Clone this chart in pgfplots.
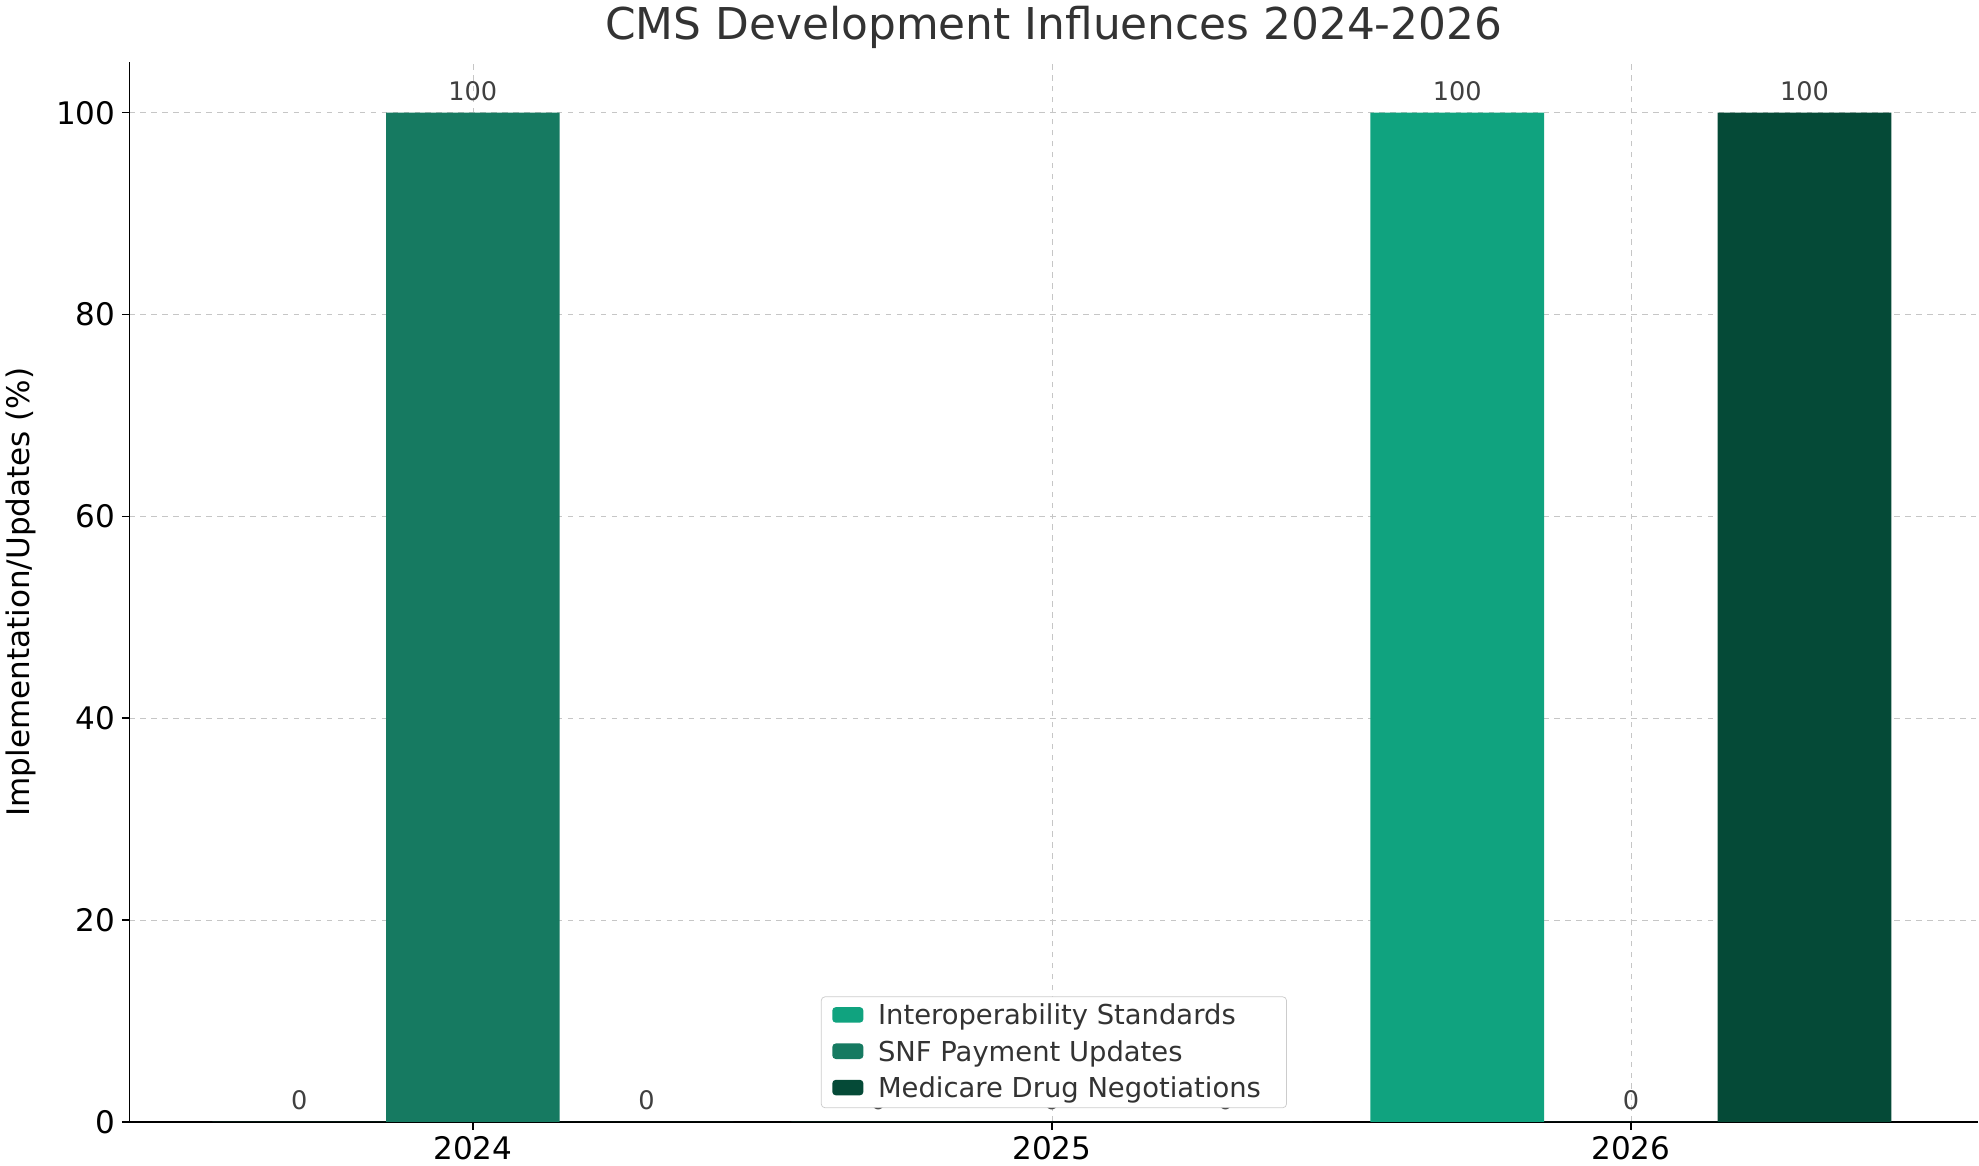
\documentclass[border=0pt]{standalone}
\usepackage{pgfplots}
\pgfplotsset{compat=1.18}
\usepackage{fontspec}
\setmainfont{DejaVu Sans}
\definecolor{cA}{HTML}{10A37F}
\definecolor{cB}{HTML}{167A61}
\definecolor{cC}{HTML}{054A37}
\begin{document}
\begin{tikzpicture}
\begin{axis}[
  scale only axis, width=1012pt, height=580pt,
  xmin=2023.407, xmax=2026.6, ymin=0, ymax=105,
  axis lines=left, axis line style={-, thick},
  xtick={2024,2025,2026}, xticklabels={2024,2025,2026},
  ytick={0,20,40,60,80,100},
  tick style={black, thick}, tick align=outside,
  ticklabel style={font=\fontsize{17}{20}\selectfont},
  /pgf/number format/assume math mode=true,
  grid=major, grid style={dashed, gray!45},
  title={CMS Development Influences 2024-2026},
  title style={font=\fontsize{24}{28}\selectfont, text=black!80, yshift=-2pt},
  ylabel={Implementation/Updates (\%)},
  ylabel style={font=\fontsize{17}{20}\selectfont, yshift=4pt},
  ybar, bar width=0.3,
  nodes near coords,
  every node near coord/.append style={font=\fontsize{14}{16}\selectfont, text=black!75, yshift=3pt},
  legend style={at={(0.5,0.013)}, anchor=south, font=\fontsize{15}{18}\selectfont, draw=gray!40, rounded corners=2pt, text=black!80, row sep=3pt, inner xsep=6pt},
  legend cell align=left,
  legend image code/.code={\fill[#1] (0cm,-0.13cm) rectangle (0.6cm,0.17cm);},
  legend style={nodes={inner xsep=8pt}},
]
\addplot[fill=cA, draw=none, bar shift=-0.3] coordinates {(2024,0) (2025,0) (2026,100)};
\addplot[fill=cB, draw=none, bar shift=0] coordinates {(2024,100) (2025,0) (2026,0)};
\addplot[fill=cC, draw=none, bar shift=0.3] coordinates {(2024,0) (2025,0) (2026,100)};
\legend{Interoperability Standards, SNF Payment Updates, Medicare Drug Negotiations}
\end{axis}
\end{tikzpicture}
\end{document}
